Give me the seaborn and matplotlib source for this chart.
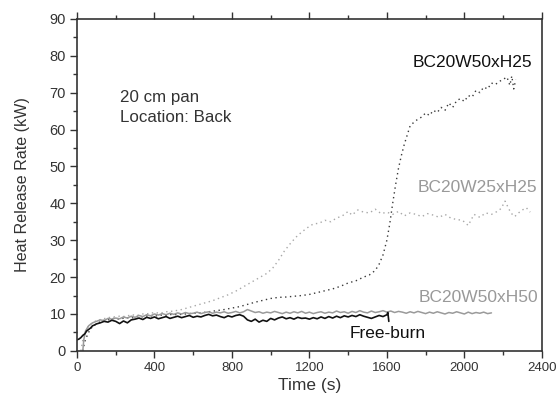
import matplotlib
matplotlib.use("Agg")
import matplotlib.pyplot as plt
import seaborn as sns
import numpy as np
from matplotlib.ticker import MultipleLocator

# ---- data ----
t_w50h25 = [30, 40, 55, 70, 90, 110, 130, 160, 190, 220, 250, 280, 310, 340, 370, 400, 430, 460, 490, 520,
            560, 600, 640, 680, 720, 760, 800, 840, 880, 920, 960, 1000, 1040, 1080, 1120, 1160, 1200, 1240,
            1280, 1320, 1360, 1400, 1440, 1480, 1510, 1540, 1560, 1580, 1600, 1615, 1630, 1645, 1660, 1675,
            1690, 1705, 1720, 1740, 1760, 1780, 1800, 1820, 1840, 1860, 1880, 1900, 1920, 1940, 1960, 1980,
            2000, 2020, 2040, 2060, 2080, 2100, 2120, 2140, 2160, 2180, 2200, 2220, 2235, 2245, 2255, 2265]
v_w50h25 = [0.0, 2.5, 4.5, 6.0, 7.0, 7.6, 8.2, 8.4, 8.8, 8.6, 9.0, 8.9, 9.3, 9.2, 9.6, 9.4, 9.7, 9.6, 9.9, 9.8,
            10.0, 10.2, 10.3, 10.6, 10.9, 11.2, 11.6, 12.0, 12.6, 13.2, 13.7, 14.2, 14.5, 14.6, 14.8, 15.0, 15.3, 15.8,
            16.3, 16.8, 17.5, 18.4, 19.0, 20.0, 20.6, 21.8, 23.5, 26.0, 30.0, 34.5, 40.0, 45.0, 49.5, 53.0,
            56.0, 58.5, 61.0, 62.0, 62.8, 63.4, 64.5, 63.8, 65.2, 64.6, 66.0, 65.2, 67.2, 66.0, 67.8, 68.4,
            67.6, 69.2, 68.8, 70.6, 70.0, 71.5, 71.0, 72.6, 72.2, 73.0, 73.6, 74.2, 72.0, 74.5, 71.0, 73.5]

t_w25h25 = [20, 30, 45, 60, 80, 100, 130, 160, 190, 220, 250, 280, 310, 340, 370, 400, 430, 460, 500, 540,
            580, 620, 660, 700, 740, 780, 820, 860, 900, 940, 980, 1010, 1040, 1070, 1100, 1130, 1160, 1190,
            1220, 1250, 1280, 1310, 1340, 1370, 1400, 1420, 1450, 1480, 1510, 1540, 1570, 1600, 1630, 1660,
            1690, 1720, 1750, 1780, 1810, 1840, 1870, 1900, 1930, 1960, 1990, 2020, 2050, 2080, 2110, 2140,
            2170, 2190, 2210, 2225, 2240, 2260, 2280, 2300, 2320, 2340]
v_w25h25 = [0.0, 3.0, 5.5, 6.8, 7.6, 8.2, 8.6, 9.0, 9.2, 9.4, 9.3, 9.8, 9.6, 10.0, 10.1, 10.4, 10.2, 10.6, 10.8, 11.2,
            11.8, 12.4, 13.0, 13.6, 14.4, 15.2, 16.2, 17.4, 18.6, 19.8, 21.0, 22.4, 24.5, 27.0, 29.0, 30.8, 32.2, 33.4,
            34.4, 34.6, 35.4, 35.0, 36.0, 36.6, 37.8, 36.8, 38.2, 37.6, 37.4, 38.4, 37.2, 37.6, 37.0, 37.8,
            36.6, 37.4, 37.0, 36.4, 37.2, 36.8, 36.2, 37.0, 36.0, 35.6, 35.4, 34.0, 37.0, 36.2, 37.4, 37.0,
            37.8, 38.6, 40.6, 39.0, 37.4, 36.4, 37.4, 38.2, 38.8, 37.6]

t_w50h50 = [30, 35, 45, 60, 80, 100, 120, 140, 160, 180, 200, 220, 240, 260, 280, 300, 320, 340, 360, 380,
            400, 420, 440, 460, 480, 500, 520, 540, 560, 580, 600, 620, 640, 660, 680, 700, 720, 740, 760, 780,
            800, 820, 840, 860, 880, 900, 920, 940, 960, 980, 1000, 1020, 1040, 1060, 1080, 1100, 1120, 1140,
            1160, 1180, 1200, 1220, 1240, 1260, 1280, 1300, 1320, 1340, 1360, 1380, 1400, 1420, 1440, 1460,
            1480, 1500, 1520, 1540, 1560, 1580, 1600, 1620, 1640, 1660, 1680, 1700, 1720, 1740, 1760, 1780,
            1800, 1820, 1840, 1860, 1880, 1900, 1920, 1940, 1960, 1980, 2000, 2020, 2040, 2060, 2080, 2100,
            2120, 2140]
v_w50h50 = [0.0, 3.0, 5.5, 6.8, 7.6, 8.0, 8.4, 8.2, 8.8, 8.6, 8.9, 8.7, 9.2, 8.9, 9.4, 9.1, 9.6, 9.3, 9.8, 9.5,
            10.0, 9.7, 10.1, 9.8, 10.2, 9.9, 10.3, 10.0, 10.4, 10.1, 10.2, 10.5, 10.1, 10.4, 10.6, 10.2, 10.5, 10.3, 10.6, 10.2,
            10.4, 10.7, 10.3, 10.6, 11.2, 10.8, 10.4, 10.6, 10.2, 10.5, 10.3, 10.7, 10.4, 10.1, 10.5, 10.2, 10.6, 10.3,
            10.7, 10.2, 10.5, 10.1, 10.4, 10.6, 10.2, 10.5, 10.3, 10.8, 10.4, 10.6, 10.2, 10.7, 10.4, 10.9,
            10.5, 10.3, 10.8, 10.4, 10.6, 10.9, 10.5, 10.8, 10.4, 10.7, 10.5, 10.2, 10.6, 10.3, 10.7, 10.4,
            10.1, 10.5, 10.2, 10.6, 10.3, 10.0, 10.4, 10.2, 10.6, 10.3, 10.0, 10.5, 10.1, 10.4, 10.2, 10.5,
            10.1, 10.3]

t_free = [0, 10, 20, 30, 40, 50, 60, 70, 80, 90, 100, 120, 140, 160, 180, 200, 220, 240, 260, 280,
          300, 320, 340, 360, 380, 400, 420, 440, 460, 480, 500, 520, 540, 560, 580, 600, 620, 640, 660, 680,
          700, 720, 740, 760, 780, 800, 820, 840, 860, 880, 900, 920, 940, 960, 980, 1000, 1020, 1040, 1060,
          1080, 1100, 1120, 1140, 1160, 1180, 1200, 1220, 1240, 1260, 1280, 1300, 1320, 1340, 1360, 1380,
          1400, 1420, 1440, 1460, 1480, 1500, 1520, 1540, 1560, 1580, 1600, 1605, 1610]
v_free = [3.0, 3.2, 3.6, 4.2, 4.6, 5.4, 5.8, 6.2, 6.8, 7.0, 7.3, 7.6, 8.0, 7.8, 8.3, 8.0, 7.4, 8.1, 7.6, 8.4,
          8.6, 8.9, 8.5, 9.1, 8.8, 9.2, 8.7, 9.0, 9.3, 8.8, 9.1, 9.4, 9.0, 9.3, 9.6, 9.1, 9.4, 9.2, 9.6, 9.9,
          9.5, 9.7, 9.3, 9.0, 9.5, 9.2, 9.6, 9.8, 9.4, 8.4, 8.0, 8.6, 7.8, 8.3, 8.0, 8.8, 8.4, 8.9, 9.2,
          8.7, 9.0, 8.6, 9.1, 8.8, 8.9, 8.6, 9.0, 8.7, 9.2, 8.8, 9.3, 8.9, 9.4, 9.0, 9.5,
          9.2, 9.6, 9.3, 9.8, 9.4, 9.1, 8.8, 9.2, 9.6, 9.3, 9.8, 10.4, 8.0]

labels = ["BC20W50xH25", "BC20W25xH25", "BC20W50xH50", "Free-burn"]
x_ticks = [0, 400, 800, 1200, 1600, 2000, 2400]
y_ticks = [0, 10, 20, 30, 40, 50, 60, 70, 80, 90]

# ---- style ----
sns.set_style("ticks")
plt.rcParams['font.family'] = ['Liberation Sans', 'DejaVu Sans']

fig = plt.figure(figsize=(5.58, 4.01), dpi=100)
ax = fig.add_axes([0.138, 0.125, 0.833, 0.828])

ink = "#333333"
sns.lineplot(x=t_w25h25, y=v_w25h25, ax=ax, color="#a8a8a8", linewidth=1.0,
             linestyle=(0, (1, 2.5)), estimator=None, sort=False)
sns.lineplot(x=t_w50h25, y=v_w50h25, ax=ax, color="#3a3a3a", linewidth=1.0,
             linestyle=(0, (1, 2.5)), estimator=None, sort=False)
sns.lineplot(x=t_w50h50, y=v_w50h50, ax=ax, color="#9a9a9a", linewidth=1.1,
             estimator=None, sort=False)
sns.lineplot(x=t_free, y=v_free, ax=ax, color="#111111", linewidth=1.2,
             estimator=None, sort=False)

ax.set_xlim(0, 2400)
ax.set_ylim(0, 90)
ax.set_xticks(x_ticks)
ax.set_yticks(y_ticks)
ax.xaxis.set_minor_locator(MultipleLocator(200))
ax.yaxis.set_minor_locator(MultipleLocator(5))
ax.tick_params(which='both', direction='out', top=True, right=False, colors=ink, width=1.0)
ax.tick_params(which='major', length=5, pad=3)
ax.tick_params(which='minor', length=3)
ax.tick_params(axis='x', labelsize=9.5, labeltop=False)
ax.tick_params(axis='y', labelsize=10.5)
for s in ax.spines.values():
    s.set_visible(True)
    s.set_color(ink)
    s.set_linewidth(1.2)

ax.set_xlabel("Time (s)", fontsize=12.5, color=ink, labelpad=3)
ax.set_ylabel("Heat Release Rate (kW)", fontsize=11.6, color=ink, labelpad=14)

ax.text(222, 68.6, "20 cm pan", fontsize=12.2, color=ink, va='center', ha='left')
ax.text(222, 63.2, "Location: Back", fontsize=12.2, color=ink, va='center', ha='left')

ax.text(2353, 78.3, labels[0], fontsize=12.5, color="#111111", ha='right', va='center')
ax.text(2374, 44.2, labels[1], fontsize=12.5, color="#999999", ha='right', va='center')
ax.text(2380, 14.4, labels[2], fontsize=12.5, color="#999999", ha='right', va='center')
ax.text(1603, 4.8, labels[3], fontsize=12.5, color="#111111", ha='center', va='center')

fig.savefig("out.png", dpi=100)
